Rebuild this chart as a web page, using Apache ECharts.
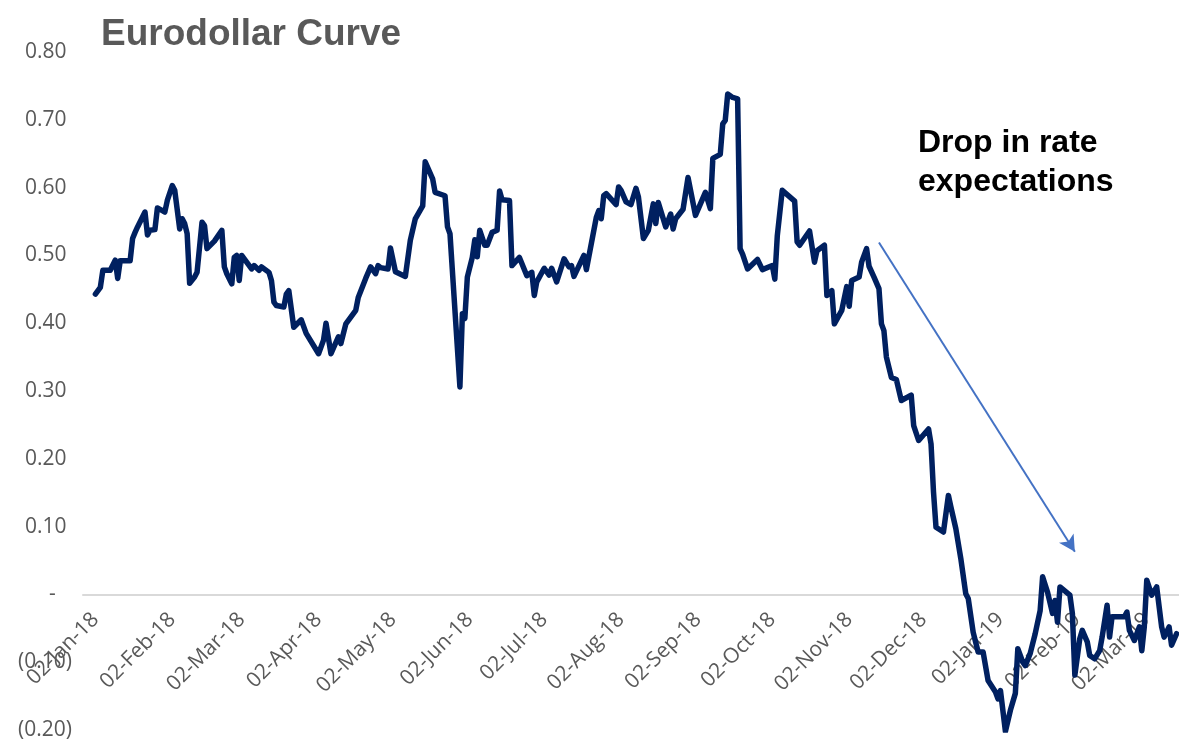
<!DOCTYPE html>
<html>
<head>
<meta charset="utf-8">
<script src="https://cdn.jsdelivr.net/npm/echarts@6/dist/echarts.min.js"></script>
<style>
html,body{margin:0;padding:0;background:#ffffff;}
#chart{width:1179px;height:741px;}
</style>
</head>
<body>
<div id="chart"></div>
<script>
// ---- Data ----
const chartTitle = 'Eurodollar Curve';
const noteText = 'Drop in rate\nexpectations';

const dates = [
  '2018-01-02','2018-01-04','2018-01-05','2018-01-08','2018-01-10','2018-01-11','2018-01-12','2018-01-16','2018-01-17','2018-01-18',
  '2018-01-19','2018-01-22','2018-01-23','2018-01-24','2018-01-26','2018-01-27','2018-01-29','2018-01-30','2018-01-31','2018-02-02',
  '2018-02-03','2018-02-05','2018-02-06','2018-02-07','2018-02-08','2018-02-09','2018-02-11','2018-02-12','2018-02-14','2018-02-15',
  '2018-02-16','2018-02-19','2018-02-22','2018-02-23','2018-02-24','2018-02-26','2018-02-27','2018-02-28','2018-03-01','2018-03-02',
  '2018-03-04','2018-03-06','2018-03-07','2018-03-09','2018-03-10','2018-03-13','2018-03-14','2018-03-15','2018-03-16','2018-03-19',
  '2018-03-20','2018-03-21','2018-03-23','2018-03-26','2018-03-28','2018-04-02','2018-04-04','2018-04-05','2018-04-07','2018-04-10',
  '2018-04-11','2018-04-13','2018-04-17','2018-04-18','2018-04-21','2018-04-23','2018-04-25','2018-04-26','2018-04-27','2018-04-30',
  '2018-05-01','2018-05-03','2018-05-07','2018-05-09','2018-05-11','2018-05-14','2018-05-15','2018-05-18','2018-05-19','2018-05-23',
  '2018-05-24','2018-05-25','2018-05-29','2018-05-30','2018-05-31','2018-06-01','2018-06-03','2018-06-04','2018-06-05','2018-06-06',
  '2018-06-08','2018-06-09','2018-06-11','2018-06-13','2018-06-14','2018-06-15','2018-06-18','2018-06-19','2018-06-21','2018-06-22',
  '2018-06-25','2018-06-27','2018-06-28','2018-06-29','2018-07-02','2018-07-04','2018-07-05','2018-07-07','2018-07-10','2018-07-12',
  '2018-07-13','2018-07-14','2018-07-18','2018-07-19','2018-07-23','2018-07-24','2018-07-25','2018-07-26','2018-07-27','2018-07-31',
  '2018-08-01','2018-08-02','2018-08-04','2018-08-06','2018-08-08','2018-08-09','2018-08-11','2018-08-13','2018-08-15','2018-08-16',
  '2018-08-17','2018-08-20','2018-08-22','2018-08-23','2018-08-24','2018-08-27','2018-08-29','2018-09-01','2018-09-05','2018-09-07',
  '2018-09-08','2018-09-11','2018-09-12','2018-09-13','2018-09-14','2018-09-16','2018-09-18','2018-09-19','2018-09-20','2018-09-22',
  '2018-09-26','2018-09-28','2018-10-02','2018-10-03','2018-10-04','2018-10-06','2018-10-11','2018-10-12','2018-10-13','2018-10-17',
  '2018-10-19','2018-10-20','2018-10-23','2018-10-24','2018-10-26','2018-10-27','2018-10-30','2018-11-01','2018-11-02','2018-11-03',
  '2018-11-06','2018-11-07','2018-11-09','2018-11-10','2018-11-12','2018-11-14','2018-11-15','2018-11-16','2018-11-17','2018-11-19',
  '2018-11-21','2018-11-23','2018-11-27','2018-11-28','2018-11-30','2018-12-04','2018-12-05','2018-12-06','2018-12-07','2018-12-10',
  '2018-12-12','2018-12-13','2018-12-15','2018-12-17','2018-12-19','2018-12-20','2018-12-22','2018-12-24','2018-12-26','2018-12-28',
  '2018-12-31','2019-01-01','2019-01-02','2019-01-04','2019-01-06','2019-01-08','2019-01-09','2019-01-11','2019-01-12','2019-01-14',
  '2019-01-16','2019-01-18','2019-01-19','2019-01-21','2019-01-23','2019-01-24','2019-01-25','2019-01-26','2019-01-30','2019-01-31',
  '2019-02-01','2019-02-03','2019-02-04','2019-02-06','2019-02-07','2019-02-09','2019-02-11','2019-02-12','2019-02-14','2019-02-15',
  '2019-02-16','2019-02-21','2019-02-22','2019-02-23','2019-02-25','2019-02-27','2019-02-28','2019-03-01','2019-03-02','2019-03-04',
  '2019-03-06','2019-03-08','2019-03-09','2019-03-11','2019-03-12','2019-03-14'
];

const values = [
  0.443,0.453,0.478,0.478,0.493,0.466,0.492,0.492,0.525,0.534,
  0.542,0.564,0.530,0.537,0.538,0.570,0.566,0.564,0.581,0.603,
  0.596,0.539,0.554,0.547,0.532,0.459,0.468,0.475,0.549,0.544,
  0.510,0.521,0.537,0.483,0.473,0.458,0.497,0.500,0.463,0.500,
  0.490,0.480,0.485,0.478,0.483,0.475,0.463,0.431,0.426,0.424,
  0.443,0.448,0.394,0.405,0.385,0.355,0.375,0.400,0.355,0.380,
  0.370,0.399,0.419,0.438,0.466,0.483,0.473,0.485,0.482,0.480,
  0.511,0.476,0.469,0.522,0.554,0.573,0.638,0.613,0.593,0.588,
  0.542,0.532,0.306,0.414,0.407,0.468,0.497,0.523,0.498,0.537,
  0.515,0.515,0.534,0.537,0.595,0.582,0.581,0.485,0.493,0.497,
  0.470,0.475,0.441,0.461,0.481,0.471,0.481,0.461,0.495,0.483,
  0.485,0.469,0.500,0.479,0.556,0.566,0.554,0.588,0.591,0.575,
  0.601,0.596,0.579,0.575,0.599,0.586,0.525,0.537,0.576,0.547,
  0.578,0.542,0.561,0.539,0.554,0.568,0.615,0.559,0.593,0.569,
  0.643,0.649,0.694,0.699,0.738,0.733,0.731,0.510,0.502,0.480,
  0.494,0.479,0.485,0.465,0.529,0.596,0.580,0.520,0.515,0.536,
  0.490,0.507,0.515,0.441,0.448,0.399,0.419,0.454,0.425,0.463,
  0.468,0.490,0.510,0.484,0.468,0.451,0.399,0.389,0.350,0.320,
  0.317,0.286,0.294,0.249,0.227,0.244,0.222,0.151,0.099,0.092,
  0.146,0.129,0.097,0.053,0.001,-0.006,-0.056,-0.085,-0.085,-0.127,
  -0.144,-0.154,-0.142,-0.202,-0.171,-0.146,-0.080,-0.100,-0.105,-0.087,
  -0.058,-0.024,0.026,0.003,-0.028,-0.009,-0.041,0.011,-0.001,-0.028,
  -0.119,-0.065,-0.053,-0.070,-0.090,-0.095,-0.083,-0.063,-0.016,-0.063,
  -0.033,-0.033,-0.026,-0.053,-0.068,-0.048,-0.083,-0.048,0.021,-0.001,
  0.011,-0.048,-0.063,-0.048,-0.075,-0.058
];

const tickDates = [
  '2018-01-02','2018-02-02','2018-03-02','2018-04-02','2018-05-02','2018-06-02','2018-07-02',
  '2018-08-02','2018-09-02','2018-10-02','2018-11-02','2018-12-02','2019-01-02','2019-02-02','2019-03-02'
];
const tickLabels = [
  '02-Jan-18','02-Feb-18','02-Mar-18','02-Apr-18','02-May-18','02-Jun-18','02-Jul-18',
  '02-Aug-18','02-Sep-18','02-Oct-18','02-Nov-18','02-Dec-18','02-Jan-19','02-Feb-19','02-Mar-19'
];

// annotation arrow (start / end in data coordinates)
const arrowStart = ['2018-11-14', 0.519];
const arrowEnd = ['2019-02-01', 0.063];

// ---- helpers ----
const BASE = Date.UTC(2018, 0, 2);
function dayOf(s) {
  const p = s.split('-');
  return Math.round((Date.UTC(+p[0], +p[1] - 1, +p[2]) - BASE) / 86400000);
}
const seriesData = dates.map((d, i) => [dayOf(d), values[i]]);
const tickDays = tickDates.map(dayOf);
const labelByDay = {};
tickDays.forEach((d, i) => { labelByDay[d] = tickLabels[i]; });

function yFmt(v) {
  const r = Math.round(v * 100) / 100;
  if (Math.abs(r) < 1e-9) return '-   ';
  if (r < 0) return '(' + (-r).toFixed(2) + ')';
  return r.toFixed(2) + ' ';
}

const Y_MIN = -0.2, Y_MAX = 0.8;
const GRID_TOP = 52, GRID_BOTTOM = 11, CH = 741;
// distance (px) from grid bottom up to the value 0
const zeroOffset = (CH - GRID_TOP - GRID_BOTTOM) * (0 - Y_MIN) / (Y_MAX - Y_MIN);

const chart = echarts.init(document.getElementById('chart'), null, {renderer: 'canvas'});
chart.setOption({
  backgroundColor: '#ffffff',
  animation: false,
  title: {
    text: chartTitle,
    left: 96,
    top: 11,
    textStyle: {
      fontFamily: '"Liberation Sans", Arial, sans-serif',
      fontWeight: 'bold',
      fontSize: 37,
      color: '#595959'
    }
  },
  graphic: [{
    type: 'text',
    left: 918,
    top: 124,
    style: {
      text: noteText,
      font: 'bold 32px "Liberation Sans", Arial, sans-serif',
      fill: '#000000',
      lineHeight: 39
    }
  }],
  grid: { left: 83, right: 0, top: GRID_TOP, bottom: GRID_BOTTOM, containLabel: false, outerBoundsMode: 'none' },
  xAxis: {
    type: 'value',
    min: -5,
    max: 437,
    offset: -zeroOffset,
    axisLine: { show: true, onZero: false, lineStyle: { color: '#d9d9d9', width: 2 } },
    axisTick: { show: false },
    splitLine: { show: false },
    axisLabel: {
      customValues: tickDays,
      formatter: v => labelByDay[v] || '',
      rotate: 45,
      margin: 22,
      color: '#595959',
      fontSize: 21,
      fontFamily: '"Open Sans", sans-serif'
    }
  },
  yAxis: {
    type: 'value',
    min: Y_MIN,
    max: Y_MAX,
    interval: 0.1,
    axisLine: { show: false },
    axisTick: { show: false },
    splitLine: { show: false },
    axisLabel: {
      formatter: yFmt,
      margin: 11,
      color: '#595959',
      fontSize: 21,
      fontFamily: '"Open Sans", sans-serif'
    }
  },
  series: [{
    type: 'line',
    data: seriesData,
    showSymbol: false,
    symbol: 'none',
    lineStyle: { color: '#002060', width: 5.5, join: 'round', cap: 'round' },
    z: 3,
    markLine: {
      silent: true,
      symbol: ['none', 'arrow'],
      symbolSize: [13, 16],
      label: { show: false },
      lineStyle: { color: '#4472C4', width: 2, type: 'solid' },
      data: [[
        { coord: [dayOf(arrowStart[0]), arrowStart[1]] },
        { coord: [dayOf(arrowEnd[0]), arrowEnd[1]] }
      ]]
    }
  }]
});
</script>
</body>
</html>
